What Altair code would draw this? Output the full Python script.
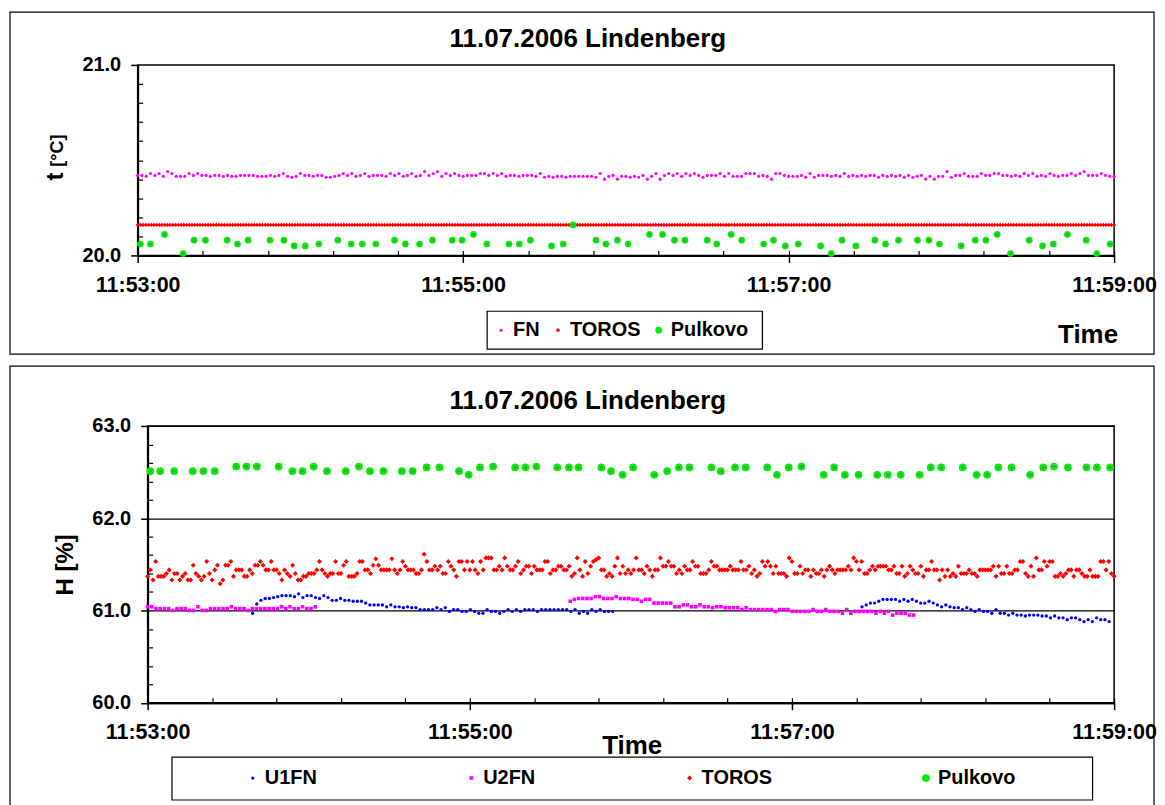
import altair as alt
import pandas as pd

FONT = "Liberation Sans"
TITLE = "11.07.2006 Lindenberg"
SPAN = 360  # seconds from 11:53:00 to 11:59:00

# ---------------- top panel: temperature ----------------
FN_T = [
 20.42,20.42,20.415,20.43,20.42,20.43,20.415,20.44,20.43,20.415,
 20.415,20.415,20.43,20.42,20.43,20.42,20.42,20.415,20.42,20.42,
 20.415,20.42,20.415,20.415,20.42,20.42,20.42,20.42,20.415,20.415,
 20.415,20.42,20.415,20.42,20.43,20.415,20.41,20.415,20.43,20.42,
 20.42,20.415,20.42,20.42,20.41,20.41,20.415,20.42,20.43,20.42,
 20.43,20.415,20.42,20.43,20.415,20.42,20.42,20.42,20.415,20.43,
 20.42,20.43,20.415,20.42,20.43,20.415,20.42,20.44,20.42,20.43,
 20.44,20.415,20.43,20.42,20.43,20.42,20.415,20.42,20.42,20.42,
 20.43,20.43,20.42,20.43,20.42,20.43,20.415,20.42,20.42,20.415,
 20.42,20.42,
 20.42,20.415,20.43,20.41,20.415,20.41,20.415,20.415,20.41,20.415,
 20.415,20.415,20.415,20.415,20.415,20.41,20.43,20.40,20.415,20.42,
 20.40,20.415,20.415,20.41,20.415,20.41,20.42,20.40,20.415,20.43,
 20.40,20.42,20.43,20.42,20.43,20.415,20.43,20.42,20.43,20.42,
 20.41,20.42,20.42,20.42,20.43,20.415,20.43,20.415,20.415,20.415,
 20.43,20.43,20.43,20.415,20.42,20.415,20.40,20.43,20.43,20.42,
 20.415,20.415,20.415,20.42,20.41,20.43,20.41,20.42,20.42,20.42,
 20.415,20.42,20.415,20.43,20.415,20.42,20.415,20.42,20.415,20.42,
 20.42,20.41,20.42,20.415,20.42,20.415,
 20.42,20.41,20.42,20.41,20.415,20.42,20.40,20.415,20.40,20.415,
 20.415,20.44,20.41,20.42,20.42,20.43,20.415,20.415,20.415,20.43,
 20.42,20.42,20.43,20.43,20.42,20.42,20.415,20.42,20.415,20.43,
 20.42,20.43,20.415,20.42,20.415,20.43,20.42,20.415,20.42,20.42,
 20.43,20.42,20.43,20.44,20.42,20.42,20.42,20.43,20.42,20.415,
 20.415]
TOROS_T_LEVEL = 20.16          # TOROS reading, one per second, constant
TOROS_T_COUNT = 361

PULKOVO_SEC = [
 1.0, 4.7, 9.9, 16.8, 20.8, 25.0, 33.0, 36.8, 40.7, 48.8,
 53.9, 57.7, 61.8, 66.8, 73.8, 78.7, 82.8, 87.8, 94.7, 98.7,
 103.9, 108.7, 116.0, 119.6, 123.8, 128.7, 136.9, 140.7, 144.8, 152.6,
 156.9, 160.5, 169.0, 172.6, 176.9, 180.8, 188.7, 193.5, 197.9, 201.8,
 210.0, 213.5, 218.8, 222.7, 230.8, 234.4, 238.8, 243.5, 251.8, 255.7,
 259.7, 264.8, 271.8, 275.7, 280.5, 287.5, 291.7, 295.6, 303.6, 308.8,
 312.7, 316.9, 321.8, 328.7, 333.6, 337.6, 342.8, 349.7, 353.6, 358.5]
PULKOVO_T = [
 20.06,20.06,20.11,20.01,20.08,20.08,20.08,20.06,20.08,20.08,
 20.08,20.05,20.05,20.06,20.08,20.06,20.06,20.06,20.08,20.06,
 20.06,20.08,20.08,20.08,20.11,20.06,
 20.06,20.06,20.08,20.05,20.06,20.16,20.08,20.06,20.08,20.06,
 20.11,20.11,20.08,20.08,20.08,20.06,20.11,20.08,20.06,20.08,
 20.05,20.06,20.05,20.01,20.08,20.05,20.08,20.06,20.08,
 20.08,20.08,20.06,20.05,20.08,20.08,20.11,20.01,20.08,20.05,
 20.06,20.11,20.08,20.01,20.06]

# ---------------- bottom panel: humidity ----------------
FN_STEP = 1.56
U1FN_A_START, U1FN_B_START = 39.1, 266.1
U2FN_A_START, U2FN_B_START = 0.0, 157.4
U1FN_A = [
 60.97,61.07,61.11,61.13,61.13,61.14,61.15,61.16,61.16,61.16,
 61.15,61.18,61.14,61.16,61.16,61.14,61.13,61.16,61.14,61.11,
 61.11,61.13,61.11,61.11,61.10,61.10,61.10,61.08,61.06,61.06,
 61.06,61.06,61.04,61.06,61.04,
 61.04,61.03,61.04,61.03,61.03,61.01,61.01,61.01,61.01,61.03,
 61.01,61.03,60.99,61.01,61.01,60.99,60.99,61.01,60.99,60.97,
 60.97,61.01,60.99,60.99,60.97,60.99,61.01,60.99,61.01,60.99,
 61.01,61.01,61.01,60.99,61.01,61.01,61.01,61.01,61.01,61.01,
 61.01,60.99,61.01,60.97,60.99,60.97,61.01,60.99,61.01,60.99,
 60.99,60.99]
U1FN_B = [
 61.04,61.06,61.08,61.08,61.10,61.12,61.12,61.12,61.12,61.10,
 61.12,61.10,61.12,61.10,61.08,61.08,61.10,61.08,61.06,61.04,
 61.06,61.04,61.03,61.03,61.01,61.03,61.01,60.99,61.01,60.99,
 60.99,60.97,61.01,60.97,60.97,60.95,60.97,60.95,60.95,60.94,
 60.95,60.95,60.95,60.94,60.94,60.92,60.94,60.92,60.92,60.90,
 60.92,60.92,60.90,60.88,60.90,60.88,60.92,60.90,60.90,60.88]
U2FN_A = [
 61.04,61.04,61.02,61.02,61.02,61.02,61.00,61.02,61.02,61.02,
 61.00,61.00,61.04,61.00,61.00,61.02,61.02,61.02,61.02,61.02,
 61.04,61.02,61.02,61.02,61.00,61.02,61.02,61.02,61.02,61.02,
 61.02,61.02,61.04,61.02,61.04,61.02,61.02,61.04,61.02,61.02,61.04]
U2FN_B = [
 61.10,61.12,61.13,61.13,61.13,61.13,61.15,61.15,61.13,61.13,
 61.13,61.15,61.13,61.13,61.13,61.12,61.12,61.10,61.12,61.12,
 61.08,61.08,61.08,61.08,61.08,61.04,61.04,61.06,61.06,61.04,
 61.04,61.06,61.04,61.04,61.03,61.04,61.04,61.03,61.03,61.03,
 61.03,61.01,61.03,61.01,61.01,61.01,61.01,61.01,61.01,60.99,
 61.01,61.01,61.01,60.99,60.99,
 60.99,60.99,60.99,61.01,60.99,60.99,61.01,60.99,60.99,60.99,
 60.97,61.01,60.97,60.99,60.99,60.99,60.99,60.99,60.97,60.99,
 60.97,60.99,60.95,60.97,60.97,60.97,60.95,60.95]
TOROS_H = [
 61.37,61.44,61.33,61.53,61.37,61.37,61.37,61.40,61.44,61.33,
 61.40,61.40,61.33,61.37,61.40,61.33,61.33,61.49,61.40,61.37,
 61.33,61.37,61.53,61.40,61.33,61.44,61.49,61.29,61.33,61.49,
 61.49,61.53,61.37,61.44,61.44,61.44,61.37,61.37,61.44,61.40,
 61.49,61.49,61.53,61.49,61.44,61.44,61.53,61.44,61.44,61.40,
 61.33,61.44,61.40,61.37,61.49,61.40,61.33,61.33,61.37,61.37,
 61.40,61.40,61.40,61.44,61.53,61.44,61.40,61.37,61.40,61.40,
 61.53,61.40,61.40,61.49,61.53,61.37,61.37,61.37,61.40,61.53,
 61.53,61.44,61.44,61.40,61.49,61.56,61.49,61.44,61.44,61.44,
 61.44,61.56,61.44,61.40,61.44,
 61.53,61.48,61.44,61.44,61.44,61.40,61.40,61.44,61.61,61.53,
 61.44,61.44,61.48,61.44,61.48,61.40,61.40,61.53,61.48,61.44,
 61.37,61.53,61.53,61.44,61.53,61.44,61.53,61.44,61.40,61.53,
 61.44,61.57,61.57,61.57,61.44,61.44,61.48,61.44,61.57,61.48,
 61.44,61.44,61.48,61.53,61.40,61.44,61.48,61.48,61.40,61.48,
 61.44,61.44,61.44,61.53,61.53,61.40,61.44,61.44,61.48,61.48,
 61.44,61.44,61.48,61.37,61.40,61.57,61.44,61.37,61.53,61.40,
 61.48,61.53,61.55,61.57,61.44,61.44,61.37,61.40,61.37,61.48,
 61.57,61.40,61.48,61.40,61.44,61.40,61.44,61.57,61.44,61.44,
 61.40,61.48,61.44,61.37,61.44,61.44,61.57,61.48,61.48,61.53,
 61.48,61.48,61.40,61.44,61.40,61.48,61.44,61.44,61.53,61.48,
 61.48,61.40,61.40,61.40,61.44,61.53,61.48,61.48,61.44,61.44,
 61.44,61.44,61.48,61.44,61.44,61.44,61.53,61.44,61.44,61.48,
 61.40,61.44,61.37,61.40,61.53,61.48,61.53,61.48,61.40,61.48,
 61.40,61.40,61.40,61.37,61.57,61.53,
 61.40,61.40,61.48,61.40,61.44,61.44,61.37,61.44,
 61.40,61.40,61.44,61.37,61.44,61.48,61.44,61.40,61.44,61.44,
 61.44,61.44,61.48,61.44,61.57,61.53,61.44,61.53,61.40,61.40,
 61.44,61.48,61.44,61.48,61.48,61.48,61.48,61.44,61.44,61.48,
 61.40,61.40,61.48,61.37,61.40,61.48,61.44,61.40,61.40,61.48,
 61.37,61.44,61.44,61.53,61.44,61.44,61.33,61.44,61.37,61.44,
 61.37,61.40,61.37,61.48,61.40,61.40,61.40,61.44,61.40,61.40,
 61.37,61.44,61.44,61.44,61.44,61.44,61.48,61.37,61.48,61.40,
 61.40,61.48,61.40,61.40,61.44,61.44,61.53,61.53,61.40,61.37,
 61.48,61.37,61.57,61.44,61.44,61.53,61.48,61.53,61.53,61.37,
 61.37,61.40,61.37,61.40,61.44,61.44,61.37,61.44,61.44,61.40,
 61.37,61.37,61.44,61.37,61.37,61.37,61.53,61.53,61.44,61.53,
 61.40,61.37]
PULKOVO_H = [
 62.51,62.51,62.51,62.51,62.51,62.51,62.56,62.56,62.56,62.56,
 62.51,62.51,62.56,62.51,62.51,62.56,62.51,62.51,62.51,
 62.51,62.55,62.55,62.51,62.47,62.55,62.56,62.55,62.55,62.56,
 62.55,62.55,62.55,62.55,62.51,62.47,62.55,62.47,62.51,62.55,
 62.55,62.55,62.51,62.55,62.55,62.55,62.47,62.55,
 62.56,62.47,62.55,62.47,62.47,62.47,62.47,62.47,62.47,62.55,
 62.55,62.55,62.47,62.47,62.55,62.55,62.47,62.55,62.56,62.55,
 62.55,62.55,62.55]

TOP_SERIES = ["FN", "TOROS", "Pulkovo"]
TOP_COLORS = ["#ff00ff", "#ff0000", "#00f000"]
TOP_SIZES = [10, 18, 45]
TOP_SHAPES = ["circle", "diamond", "circle"]
BOT_SERIES = ["U1FN", "U2FN", "TOROS", "Pulkovo"]
BOT_COLORS = ["#0000ff", "#ff00ff", "#ff0000", "#00f000"]
BOT_SIZES = [11, 13, 26, 60]
BOT_SHAPES = ["circle", "square", "diamond", "circle"]

# ---------------- helpers ----------------
BASE = pd.Timestamp("2006-07-11 11:53:00")


def iso(sec):
    return (BASE + pd.Timedelta(seconds=float(sec))).strftime("%Y-%m-%dT%H:%M:%S.%f")[:-3]


def dt(sec):
    sec = int(sec)
    return alt.DateTime(year=2006, month=7, date=11, hours=11,
                        minutes=53 + sec // 60, seconds=sec % 60)


def rows(name, secs, vals):
    return [{"time": iso(s), "value": v, "series": name} for s, v in zip(secs, vals)]


top_rows = []
top_rows += rows("FN", [i * SPAN / (len(FN_T) - 1) for i in range(len(FN_T))], FN_T)
top_rows += rows("TOROS", list(range(TOROS_T_COUNT)), [TOROS_T_LEVEL] * TOROS_T_COUNT)
top_rows += rows("Pulkovo", PULKOVO_SEC, PULKOVO_T)
df_top = pd.DataFrame(top_rows)

bot_rows = []
bot_rows += rows("U1FN", [U1FN_A_START + i * FN_STEP for i in range(len(U1FN_A))], U1FN_A)
bot_rows += rows("U1FN", [U1FN_B_START + i * FN_STEP for i in range(len(U1FN_B))], U1FN_B)
bot_rows += rows("U2FN", [U2FN_A_START + i * FN_STEP for i in range(len(U2FN_A))], U2FN_A)
bot_rows += rows("U2FN", [U2FN_B_START + i * FN_STEP for i in range(len(U2FN_B))], U2FN_B)
bot_rows += rows("TOROS", list(range(len(TOROS_H))), TOROS_H)
bot_rows += rows("Pulkovo", PULKOVO_SEC, PULKOVO_H)
df_bot = pd.DataFrame(bot_rows)

one = pd.DataFrame({"k": [0]})
MAJOR_T = [dt(s) for s in (0, 120, 240, 360)]
MINOR_T = [dt(s) for s in range(0, SPAN + 1, 24)]

# both views share the same origin; the upper plot reaches 10 px further left
W = 969
H1, H2 = 191, 277.5
X1_LEFT = -10


def x_axis_main(title_x, title_y, anchor_align):
    return alt.Axis(values=MAJOR_T, format="%H:%M:%S", labelFont=FONT, labelFontSize=21.5,
                    labelFontWeight="bold", labelColor="black", labelPadding=12,
                    labelFlush=False, labelOverlap=False, tickSize=7, tickColor="black",
                    tickWidth=1.5, domainColor="black", domainWidth=2, grid=False,
                    title="Time", titleFont=FONT, titleFontSize=26, titleFontWeight="bold",
                    titleColor="black", titleX=title_x, titleY=title_y,
                    titleAlign=anchor_align, titleBaseline="alphabetic")


def minor_axes(h, right_offset, yvals):
    return (alt.Axis(orient="top", offset=-h, values=MINOR_T, labels=False, domain=False,
                     tickSize=5, tickColor="black", tickWidth=1.2, grid=False, title=None),
            alt.Axis(orient="right", offset=right_offset, values=yvals, labels=False,
                     domain=False, tickSize=5, tickColor="black", tickWidth=1.2, grid=False,
                     title=None))


def text(txt, x, y, size, angle=0, weight="bold"):
    return alt.Chart(one).mark_text(text=txt, font=FONT, fontSize=size, fontWeight=weight,
                                    color="black", align="center", baseline="alphabetic",
                                    angle=angle).encode(x=alt.value(x), y=alt.value(y))


def frame(x1, x2, y1, y2, fill="transparent", width=1.2):
    return alt.Chart(one).mark_rect(fill=fill, stroke="black", strokeWidth=width).encode(
        x=alt.value(x1), x2=alt.value(x2), y=alt.value(y1), y2=alt.value(y2))


def legend(x, y, cols, pad):
    return alt.Legend(title=None, orient="none", legendX=x, legendY=y, direction="horizontal",
                      columns=cols, padding=0, labelFont=FONT, labelFontSize=20,
                      labelFontWeight="bold", labelColor="black", labelOffset=2,
                      columnPadding=pad, symbolStrokeWidth=0)


def series_channels(series, colors, sizes, shapes, leg):
    return dict(
        color=alt.Color("series:N", scale=alt.Scale(domain=series, range=colors), legend=leg),
        size=alt.Size("series:N", scale=alt.Scale(type="ordinal", domain=series, range=sizes),
                      legend=leg),
        shape=alt.Shape("series:N", scale=alt.Scale(domain=series, range=shapes), legend=leg),
    )


# ---------------- top chart ----------------
xs1 = alt.Scale(domain=[dt(0), dt(360)], range=[X1_LEFT, W], nice=False)
ys1 = alt.Scale(domain=[20, 21], nice=False, zero=False)
leg1 = legend(344.4, 256, 3, 8)

pts1 = alt.Chart(df_top).mark_point(filled=True, opacity=1, strokeWidth=0).encode(
    x=alt.X("time:T", scale=xs1, axis=x_axis_main(972.5, 87, "right")),
    y=alt.Y("value:Q", scale=ys1, axis=alt.Axis(values=[20, 21], format=".1f", labelFont=FONT,
            labelFontSize=20, labelFontWeight="bold", labelColor="black", labelPadding=10,
            tickSize=7, tickColor="black", tickWidth=1.5, domainColor="black", domainWidth=2,
            grid=False, title=None, offset=-X1_LEFT)),
    **series_channels(TOP_SERIES, TOP_COLORS, TOP_SIZES, TOP_SHAPES, leg1),
)
ctr1 = alt.Chart(df_top).transform_filter(alt.datum.series == "Pulkovo").mark_point(
    filled=True, opacity=1, strokeWidth=0, shape="circle", size=9, color="#4f9a58").encode(
    x=alt.X("time:T", scale=xs1, axis=None), y=alt.Y("value:Q", scale=ys1, axis=None))
mx1, my1 = minor_axes(H1, X1_LEFT - W, [round(20 + 0.1 * i, 1) for i in range(1, 10)])
minor1 = alt.Chart(pd.DataFrame({"time": [iso(0), iso(SPAN)], "value": [20, 21]})).mark_point(
    opacity=0).encode(x=alt.X("time:T", scale=xs1, axis=mx1), y=alt.Y("value:Q", scale=ys1, axis=my1))

top = alt.layer(
    frame(-138, 1009, -53, 290),
    frame(X1_LEFT, W, 0, H1, width=1.5),
    frame(340.4, 616.4, 247, 285, fill="white"),
    text(TITLE, 441.4, -18, 26),
    text("t", -84.6, 112, 24, angle=270),
    text("[°C]", -85, 86, 18, angle=270),
    minor1, pts1, ctr1,
).resolve_axis(x="independent", y="independent").properties(width=W, height=H1)

# ---------------- bottom chart ----------------
xs2 = alt.Scale(domain=[dt(0), dt(360)], nice=False)
ys2 = alt.Scale(domain=[60, 63], nice=False, zero=False)
leg2 = legend(95.4, 343, 4, 144)

pts2 = alt.Chart(df_bot).mark_point(filled=True, opacity=1, strokeWidth=0).encode(
    x=alt.X("time:T", scale=xs2, axis=x_axis_main(485.4, 51, "center")),
    y=alt.Y("value:Q", scale=ys2, axis=alt.Axis(values=[60, 61, 62, 63], format=".1f",
            labelFont=FONT, labelFontSize=20, labelFontWeight="bold", labelColor="black",
            labelPadding=10, tickSize=7, tickColor="black", tickWidth=1.5, domainColor="black",
            domainWidth=2, grid=True, gridColor="black", gridWidth=1.2, gridOpacity=1,
            title="H [%]", titleFont=FONT, titleFontSize=24, titleFontWeight="bold",
            titleColor="black", titleAngle=270, titleX=-75, titleY=H2 / 2,
            titleAlign="center", titleBaseline="alphabetic")),
    **series_channels(BOT_SERIES, BOT_COLORS, BOT_SIZES, BOT_SHAPES, leg2),
)
ctr2 = alt.Chart(df_bot).transform_filter(alt.datum.series == "Pulkovo").mark_point(
    filled=True, opacity=1, strokeWidth=0, shape="circle", size=11, color="#4f9a58").encode(
    x=alt.X("time:T", scale=xs2, axis=None), y=alt.Y("value:Q", scale=ys2, axis=None))
mx2, my2 = minor_axes(H2, -W, [round(60 + 0.2 * i, 1) for i in range(1, 15) if i % 5])
minor2 = alt.Chart(pd.DataFrame({"time": [iso(0), iso(SPAN)], "value": [60, 63]})).mark_point(
    opacity=0).encode(x=alt.X("time:T", scale=xs2, axis=mx2), y=alt.Y("value:Q", scale=ys2, axis=my2))

bottom = alt.layer(
    frame(-138, 1009, -60, 382),
    frame(0, W, 0, H2, width=1.5),
    frame(24.4, 947.4, 332, 375, fill="white"),
    text(TITLE, 441.4, -17, 26),
    minor2, pts2, ctr2,
).resolve_axis(x="independent", y="independent").properties(width=W, height=H2)

chart = alt.vconcat(top, bottom, spacing=8).resolve_scale(
    color="independent", size="independent", shape="independent"
).properties(
    padding={"left": 0, "top": 1, "right": 0, "bottom": 0}, background="white"
).configure_view(stroke="transparent")

chart.save("out.html", embed_options={"renderer": "svg", "actions": False})
